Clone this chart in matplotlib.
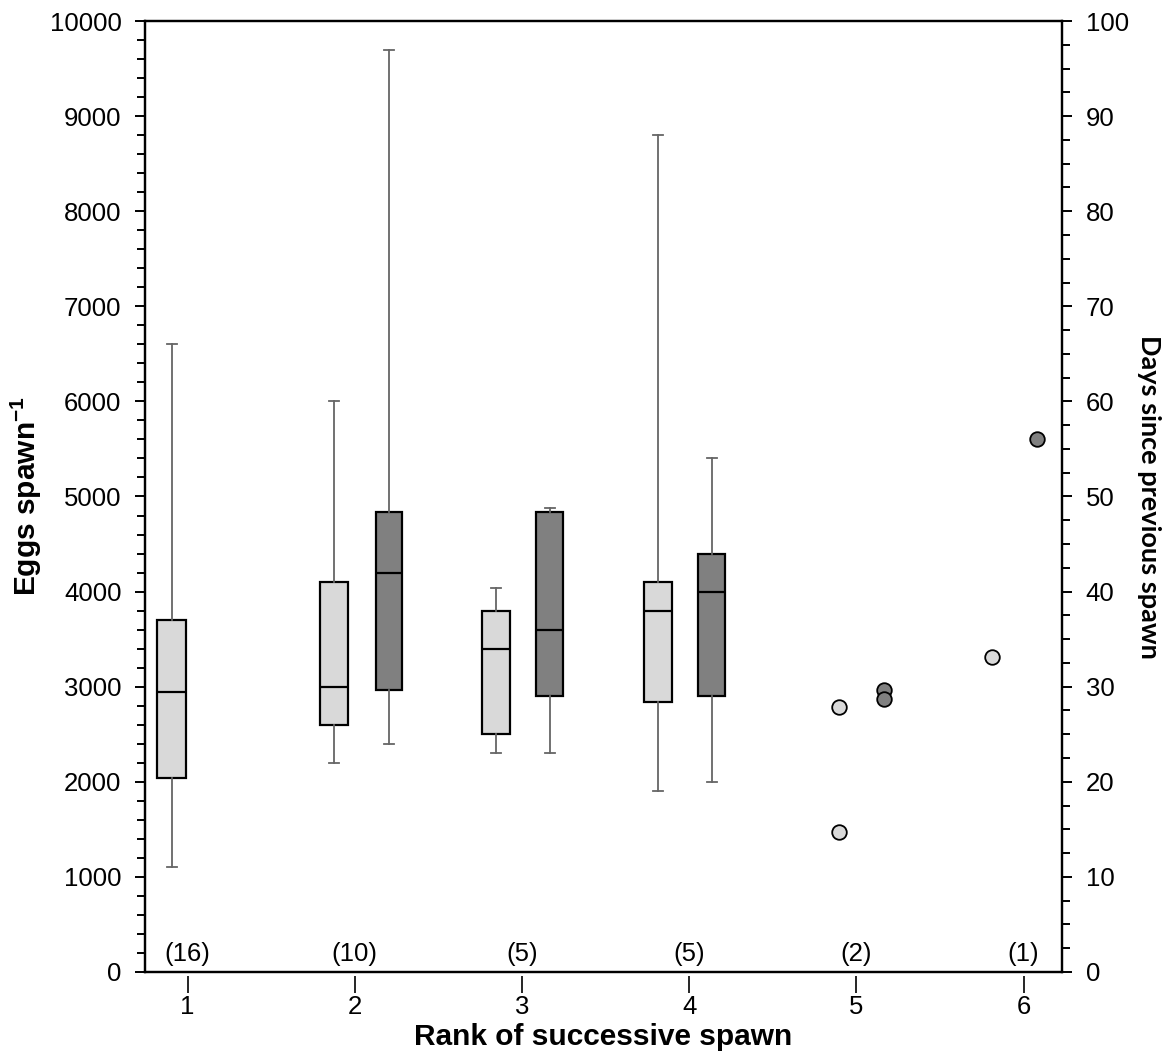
import matplotlib
matplotlib.use("Agg")
import matplotlib.pyplot as plt
from matplotlib.ticker import MultipleLocator

plt.rcParams['font.family'] = ['Liberation Sans', 'DejaVu Sans']
plt.rcParams['mathtext.fontset'] = 'custom'
plt.rcParams['mathtext.rm'] = 'Liberation Sans'
plt.rcParams['mathtext.bf'] = 'Liberation Sans:bold'

# rank of successive spawn
ranks = [1, 2, 3, 4, 5, 6]
counts = ["(16)", "(10)", "(5)", "(5)", "(2)", "(1)"]

# eggs per spawn (left axis), box summaries for ranks 1-4
egg_ranks = [1, 2, 3, 4]
egg_whislo = [1100, 2200, 2300, 1900]
egg_q1 = [2040, 2600, 2500, 2840]
egg_med = [2940, 3000, 3400, 3800]
egg_q3 = [3700, 4100, 3800, 4100]
egg_whishi = [6600, 6000, 4040, 8800]

# days since previous spawn (right axis), ranks 2-4
day_ranks = [2, 3, 4]
day_whislo = [24, 23, 20]
day_q1 = [29.6, 29, 29]
day_med = [42, 36, 40]
day_q3 = [48.4, 48.4, 44]
day_whishi = [97, 48.8, 54]

# single observations for ranks 5 and 6
egg_pts_rank = [5, 5, 6]
egg_pts = [2790, 1470, 3310]
day_pts_rank = [5, 5, 6]
day_pts = [29.7, 28.7, 56]

# horizontal shift of each group around its rank (layout only)
egg_shift = {1: -0.096, 2: -0.124, 3: -0.157, 4: -0.186, 5: -0.105, 6: -0.191}
day_shift = {2: 0.204, 3: 0.166, 4: 0.134, 5: 0.168, 6: 0.08}

LIGHT = "#d9d9d9"
DARK = "#808080"
WHISK = "#666666"


def stats(lo, q1, med, q3, hi):
    return [dict(whislo=a, q1=b, med=c, q3=d, whishi=e, fliers=[])
            for a, b, c, d, e in zip(lo, q1, med, q3, hi)]


fig = plt.figure(figsize=(11.74, 10.61), dpi=100)
ax = fig.add_axes([0.1235, 0.0839, 0.7811, 0.8963])
ax2 = ax.twinx()

box_kw = dict(patch_artist=True, showfliers=False,
              whiskerprops=dict(color=WHISK, lw=1.3),
              capprops=dict(color=WHISK, lw=1.3),
              medianprops=dict(color="black", lw=1.6))

ax.bxp(stats(egg_whislo, egg_q1, egg_med, egg_q3, egg_whishi),
       positions=[r + egg_shift[r] for r in egg_ranks], widths=0.17,
       boxprops=dict(facecolor=LIGHT, edgecolor="black", lw=1.6),
       capwidths=0.06, manage_ticks=False, **box_kw)
ax2.bxp(stats(day_whislo, day_q1, day_med, day_q3, day_whishi),
        positions=[r + day_shift[r] for r in day_ranks], widths=0.16,
        boxprops=dict(facecolor=DARK, edgecolor="black", lw=1.6),
        capwidths=0.06, manage_ticks=False, **box_kw)

ax.plot([r + egg_shift[r] for r in egg_pts_rank], egg_pts, "o", ms=10.5,
        mfc=LIGHT, mec="black", mew=1.3, ls="none")
ax2.plot([r + day_shift[r] for r in day_pts_rank], day_pts, "o", ms=10.5,
         mfc=DARK, mec="black", mew=1.3, ls="none")

for r, c in zip(ranks, counts):
    ax.text(r, 190, c, ha="center", va="center", fontsize=18.5)

ax.set_xlim(0.745, 6.23)
ax.set_ylim(0, 10000)
ax2.set_ylim(0, 100)

ax.yaxis.set_major_locator(MultipleLocator(1000))
ax.yaxis.set_minor_locator(MultipleLocator(200))
ax2.yaxis.set_major_locator(MultipleLocator(10))
ax2.yaxis.set_minor_locator(MultipleLocator(2.5))

for a in (ax, ax2):
    for s in a.spines.values():
        s.set_linewidth(1.6)
ax.tick_params(axis="y", which="major", direction="out", length=7, width=1.4,
               labelsize=18.5, pad=10)
ax.tick_params(axis="y", which="minor", direction="out", length=6, width=1.4)
ax2.tick_params(axis="y", which="major", direction="out", length=7, width=1.4,
                labelsize=18.5, pad=10)
ax2.tick_params(axis="y", which="minor", direction="out", length=6, width=1.4)

# x ticks sit slightly below the axis line
ax.tick_params(axis="x", bottom=False, labelbottom=False)
sec = ax.secondary_xaxis(-0.0045)
sec.spines["bottom"].set_visible(False)
sec.set_xticks(ranks)
sec.tick_params(axis="x", direction="out", length=12, width=1.2,
                labelsize=18.5, pad=1.5)

ax.set_xlabel("Rank of successive spawn", fontsize=21.5, fontweight="bold")
ax.xaxis.set_label_coords(0.5, -0.054)
ax.set_ylabel(r"Eggs spawn$^{\mathbf{-1}}$", fontsize=21.5, fontweight="bold",
              va="center")
ax.yaxis.set_label_coords(-0.13, 0.5)
ax2.set_ylabel("Days since previous spawn", fontsize=19.5, fontweight="bold",
               family=["Lato", "DejaVu Sans"], rotation=270, va="center")
ax2.yaxis.set_label_coords(1.095, 0.5)

fig.savefig("out.png", dpi=100)
